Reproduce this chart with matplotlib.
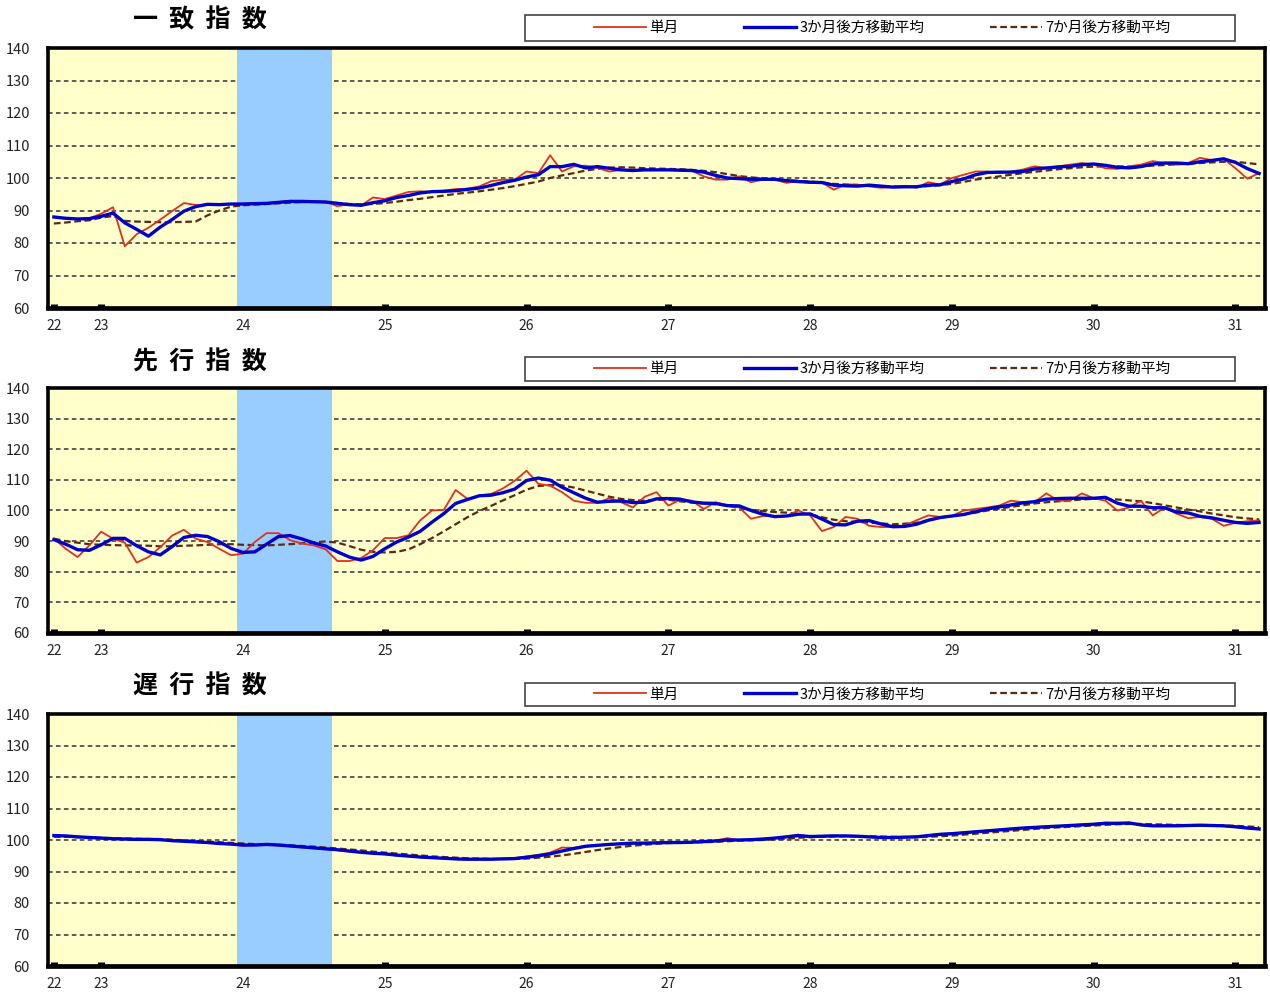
import numpy as np
import matplotlib
matplotlib.use("Agg")
import matplotlib.pyplot as plt
from matplotlib.lines import Line2D
from matplotlib.patches import Rectangle

plt.rcParams['font.family'] = ['Noto Sans CJK JP', 'DejaVu Sans']

# months: index 0 = H22.9 ... index 102 = H31.3
year_ticks = [0, 4, 16, 28, 40, 52, 64, 76, 88, 100]
year_labels = ["22", "23", "24", "25", "26", "27", "28", "29", "30", "31"]
recession = (15.5, 23.5)

titles = ["一  致  指  数", "先  行  指  数", "遅  行  指  数"]
legend_labels = ["単月", "3か月後方移動平均", "7か月後方移動平均"]

# 一致指数
coin_m = [88, 87.5, 87.3, 87.6, 89, 91, 79, 82.7, 84.7, 87.2,
          89.8, 92.3, 91.7, 91.7, 92, 92, 92, 92, 92.3, 92.6,
          93, 92.5, 92.7, 92.7, 91.3, 92, 91.5, 94, 93.5, 94.6,
          95.7, 95.9, 95.7, 96.1, 96.6, 96.7, 97.4, 99, 99.5, 99.5,
          102, 101.5, 107, 102, 103.6, 103.8, 103.1, 102, 102.5, 102.5,
          102.5, 102.5, 102.5, 102.3, 102.2, 100.5, 99.5, 99.5, 100.5, 98.7,
          99.5, 99.5, 98.5, 99, 98.5, 98.6, 96.4, 98, 98, 97.4,
          97, 97.2, 97.6, 97, 98.7, 98, 100, 101, 102, 102,
          101.5, 102, 102.6, 103.6, 103, 103.6, 104.1, 104.6, 104.1, 103,
          102.8, 103.6, 104.1, 105.2, 104.6, 104.1, 104.6, 106.2, 105.5, 105.9,
          103, 99.8, 101.5]
coin_3 = [88, 87.6, 87.4, 87.5, 88.2, 89.2, 86.2, 84.2, 82.1, 84.9,
          87.2, 89.8, 91.2, 91.9, 91.8, 92, 92, 92.1, 92.2, 92.5,
          92.8, 92.8, 92.7, 92.6, 92.2, 91.8, 91.6, 92.4, 93, 94,
          94.6, 95.4, 95.8, 95.9, 96.1, 96.5, 96.9, 97.7, 98.6, 99.3,
          100.3, 101, 103.5, 103.5, 104.2, 103.1, 103.5, 103, 102.5, 102.3,
          102.5, 102.5, 102.5, 102.4, 102.3, 101.8, 100.8, 100, 99.8, 99.6,
          99.6, 99.6, 99.2, 98.9, 98.7, 98.6, 97.8, 97.6, 97.5, 97.8,
          97.5, 97.2, 97.3, 97.3, 97.8, 97.9, 98.9, 99.7, 101, 101.7,
          101.8, 101.8, 102, 102.8, 103.1, 103.4, 103.6, 104.1, 104.3, 103.9,
          103.3, 103.1, 103.5, 104.3, 104.6, 104.6, 104.4, 105, 105.4, 105.9,
          104.8, 102.9, 101.4]
coin_7 = [86, 86.3, 86.7, 87, 87.8, 88.3, 86.8, 86.6, 86.5, 86.4,
          86.4, 86.5, 86.6, 88.5, 90, 91.2, 91.6, 91.8, 92, 92.2,
          92.4, 92.6, 92.7, 92.6, 92.3, 92, 91.9, 92, 92.3, 92.7,
          93.2, 93.6, 94.1, 94.6, 95.1, 95.5, 95.9, 96.4, 96.9, 97.5,
          98.2, 98.9, 100, 100.8, 101.5, 102.3, 102.8, 103.2, 103.3, 103.2,
          103, 102.9, 102.8, 102.7, 102.5, 102.2, 101.8, 101.2, 100.6, 100.2,
          99.9, 99.6, 99.3, 99.1, 98.9, 98.6, 98.2, 98, 97.8, 97.6,
          97.5, 97.4, 97.3, 97.3, 97.5, 97.8, 98.2, 98.8, 99.5, 100,
          100.5, 101, 101.5, 101.9, 102.3, 102.7, 103, 103.3, 103.5, 103.6,
          103.6, 103.5, 103.6, 103.8, 104, 104.2, 104.4, 104.6, 104.8, 105,
          105, 104.6, 104.2]

# 先行指数
lead_m = [90.8, 87.5, 84.8, 88.6, 93.1, 90.8, 89.5, 83, 84.8, 88,
          91.8, 93.7, 90.8, 89.7, 87.5, 85.4, 85.9, 89.7, 92.6, 92.6,
          90.3, 89.2, 88.6, 87.3, 83.5, 83.5, 84.5, 87, 91, 91,
          91.9, 96.8, 100, 100.2, 106.7, 103.8, 104.9, 105.4, 107.2, 109.7,
          113, 108.7, 108.1, 106, 103.2, 102.5, 102.5, 104, 102.7, 101,
          104.5, 106, 101.6, 103.5, 103.2, 100.5, 102.7, 101.6, 101, 97.3,
          98.2, 98.2, 98.2, 100, 98.4, 93.3, 94.6, 97.9, 97.3, 95,
          94.6, 94.6, 95.1, 96.8, 98.4, 97.9, 98.2, 100, 100.5, 101,
          101.6, 103.2, 102.7, 102.7, 105.6, 103.2, 103.2, 105.6, 104, 103.2,
          100, 101, 103.2, 98.4, 101, 99, 97.5, 97.9, 97.3, 95,
          96, 96.5, 96.8]
lead_3 = [90.5, 89, 87.2, 87, 88.8, 90.9, 90.9, 88.5, 86.5, 85.5,
          88.2, 91.2, 91.9, 91.5, 89.8, 87.6, 86.3, 86.5, 89, 91.5,
          91.8, 90.7, 89.4, 88.4, 86.5, 84.8, 83.8, 85, 87.5, 89.7,
          91.3, 93.2, 96.2, 99, 102.3, 103.6, 104.8, 105, 105.8, 107,
          109.8, 110.6, 109.9, 107.6, 105.8, 104, 102.7, 103, 103.1, 102.6,
          102.7, 103.8, 103.9, 103.7, 102.8, 102.4, 102.3, 101.6, 101.5, 100,
          98.8, 98, 98.2, 98.8, 98.9, 97.2, 95.4, 95.3, 96.5, 96.7,
          95.6, 94.7, 94.8, 95.5, 96.8, 97.7, 98.2, 98.7, 99.6, 100.5,
          101.2, 101.8, 102.5, 102.9, 103.7, 103.9, 104, 104, 104, 104.3,
          102.4, 101.4, 101.4, 100.9, 100.9, 99.5, 99.2, 98.1, 97.6, 96.8,
          96.1, 95.8, 96.1]
lead_7 = [90.8, 90, 89.5, 89, 88.8, 88.7, 88.6, 88.6, 88.5, 88.3,
          88.3, 88.5, 88.6, 88.8, 89, 89, 88.8, 88.7, 88.6, 88.8,
          89, 89.3, 89.6, 89.9, 89.5, 88.4, 87.2, 86.5, 86.3, 86.5,
          87.3, 89, 91, 93.2, 95.5, 97.8, 99.8, 101.5, 103.3, 105,
          106.8, 108, 108.3, 108.2, 107.5, 106.5, 105.5, 104.5, 103.8, 103.4,
          103.2, 103.5, 103.5, 103, 102.6, 102.3, 102, 101.6, 100.8, 100.2,
          99.8, 99.5, 99.3, 99, 98.7, 97.8, 97, 96.5, 96.3, 96,
          95.8, 95.5, 95.7, 96, 96.8, 97.7, 98.2, 98.7, 99.3, 100,
          100.6, 101.2, 101.7, 102.3, 102.7, 103, 103.3, 103.6, 103.8, 103.8,
          103.6, 103.3, 103, 102.4, 101.7, 101, 100.3, 99.7, 99, 98.4,
          97.8, 97.4, 97.1]

# 遅行指数
lag_m = [101.6, 101.2, 101.1, 100.7, 100.5, 100.3, 100.4, 100, 100.3, 100.2,
         99.6, 99.7, 99.3, 99.1, 98.8, 98.6, 98.2, 98.5, 98.7, 98.3,
         98, 97.7, 97.4, 97.1, 96.8, 96.3, 96, 95.7, 95.5, 95.1,
         94.8, 94.5, 94.3, 94.1, 93.9, 93.8, 93.9, 93.9, 94.1, 94.3,
         94.8, 95.3, 96, 97.6, 97.5, 98.1, 98.4, 98.5, 98.9, 98.9,
         99.1, 99.1, 99.1, 99.3, 99.4, 99.5, 99.8, 100.6, 99.9, 100.2,
         100.4, 100.7, 101.1, 101.7, 101, 101.3, 101.4, 101.2, 101.1, 100.9,
         100.8, 100.9, 100.9, 101.1, 101.5, 101.9, 102.1, 102.4, 102.7, 103,
         103.3, 103.6, 103.8, 104.1, 104.3, 104.4, 104.7, 104.9, 105.1, 105.5,
         105.3, 105.5, 104.7, 104.4, 104.6, 104.6, 104.7, 104.8, 104.6, 104.4,
         104.1, 103.7, 103.4]
lag_3 = [101.4, 101.3, 101, 100.8, 100.6, 100.4, 100.3, 100.2, 100.2, 100.1,
         99.8, 99.6, 99.4, 99.2, 98.9, 98.7, 98.4, 98.4, 98.6, 98.4,
         98.1, 97.8, 97.5, 97.2, 96.9, 96.5, 96.1, 95.8, 95.6, 95.2,
         94.9, 94.6, 94.4, 94.2, 94, 93.9, 93.9, 93.9, 94, 94.1,
         94.5, 95, 95.6, 96.5, 97.3, 98, 98.3, 98.6, 98.8, 99,
         99, 99.1, 99.2, 99.2, 99.3, 99.5, 99.7, 100, 100, 100.1,
         100.3, 100.6, 101, 101.4, 101.1, 101.2, 101.3, 101.3, 101.2, 101,
         100.8, 100.8, 100.9, 101, 101.4, 101.8, 102, 102.3, 102.6, 102.9,
         103.2, 103.5, 103.8, 104, 104.2, 104.4, 104.6, 104.8, 105, 105.3,
         105.3, 105.4, 104.8, 104.5, 104.5, 104.5, 104.6, 104.7, 104.6, 104.5,
         104.2, 103.8, 103.5]
lag_7 = [101, 101, 100.9, 100.8, 100.7, 100.6, 100.5, 100.4, 100.3, 100.3,
         100.1, 99.9, 99.7, 99.5, 99.3, 99.1, 98.9, 98.7, 98.6, 98.5,
         98.3, 98.1, 97.9, 97.6, 97.3, 97, 96.7, 96.3, 96, 95.7,
         95.4, 95.1, 94.8, 94.6, 94.4, 94.2, 94.1, 94, 94, 94,
         94.1, 94.4, 94.7, 95.1, 95.6, 96.2, 96.8, 97.3, 97.8, 98.2,
         98.5, 98.8, 99, 99.1, 99.2, 99.3, 99.4, 99.6, 99.8, 99.9,
         100, 100.2, 100.4, 100.7, 100.9, 101, 101.1, 101.2, 101.2, 101.2,
         101.1, 101, 100.9, 100.9, 101, 101.2, 101.4, 101.7, 102, 102.3,
         102.6, 102.9, 103.2, 103.5, 103.8, 104, 104.2, 104.4, 104.6, 104.8,
         105, 105.1, 105.1, 105, 104.9, 104.8, 104.7, 104.6, 104.6, 104.6,
         104.5, 104.3, 104.1]

panels = [(coin_m, coin_3, coin_7), (lead_m, lead_3, lead_7), (lag_m, lag_3, lag_7)]

W, H = 1270, 992
# axes boxes in pixels: (left, top, right, bottom)
ax_px = [(48, 48, 1265, 308), (48, 388, 1265, 633), (48, 714, 1265, 966)]
title_y = [20, 362, 687]
legend_box = [(525, 15, 1235, 41), (525, 357, 1235, 381), (525, 683, 1235, 706)]

red = "#E0301E"
blue = "#0000CC"
brown = "#5C2A12"
bg = "#FFFFCC"
shade = "#99CCFF"

fig = plt.figure(figsize=(W / 100, H / 100), dpi=100)

for k, (m, a3, a7) in enumerate(panels):
    l, t, r, b = ax_px[k]
    ax = fig.add_axes([l / W, 1 - b / H, (r - l) / W, (b - t) / H])
    ax.set_facecolor(bg)
    x = np.arange(len(m))

    for yv in range(70, 140, 10):
        ax.axhline(yv, color="#333333", lw=1.1, ls=(0, (3, 2.2)), zorder=1)
    ax.axvspan(recession[0], recession[1], color=shade, lw=0, zorder=2)

    ax.plot(x, a7, color=brown, lw=1.6, ls=(0, (3, 1.6)), zorder=3)
    ax.plot(x, m, color=red, lw=1.3, zorder=4)
    ax.plot(x, a3, color=blue, lw=2.4, zorder=5)

    ax.set_xlim(-0.5, len(m) - 0.5)
    ax.set_ylim(60, 140)
    ax.set_yticks(range(60, 141, 10))
    ax.set_xticks(year_ticks)
    ax.set_xticklabels(year_labels)
    ax.tick_params(axis="y", length=0, pad=13, labelsize=10.5, labelcolor="#222222")
    ax.tick_params(axis="x", direction="in", length=3, width=5, pad=8,
                   labelsize=10, labelcolor="#222222")
    for sp in ax.spines.values():
        sp.set_linewidth(2.6)
        sp.set_color("black")
    ax.spines["bottom"].set_linewidth(3.4)

    fig.text(200 / W, 1 - title_y[k] / H, titles[k], fontsize=18, fontweight="bold",
             ha="center", va="center")

    bl, bt, br, bb = legend_box[k]
    fig.patches.append(Rectangle((bl / W, 1 - bb / H), (br - bl) / W, (bb - bt) / H,
                                 transform=fig.transFigure, facecolor="white",
                                 edgecolor="#444444", lw=1.2, zorder=0))
    handles = [Line2D([], [], color=red, lw=1.3),
               Line2D([], [], color=blue, lw=2.4),
               Line2D([], [], color=brown, lw=1.6, ls=(0, (3, 1.6)))]
    fig.legend(handles, legend_labels, loc="center",
               bbox_to_anchor=(882 / W, 1 - (bt + bb) / 2 / H),
               ncol=3, frameon=False, fontsize=10.5, handlelength=3.6,
               handletextpad=0.2, columnspacing=4.5, borderpad=0)

fig.savefig("out.png", dpi=100)
